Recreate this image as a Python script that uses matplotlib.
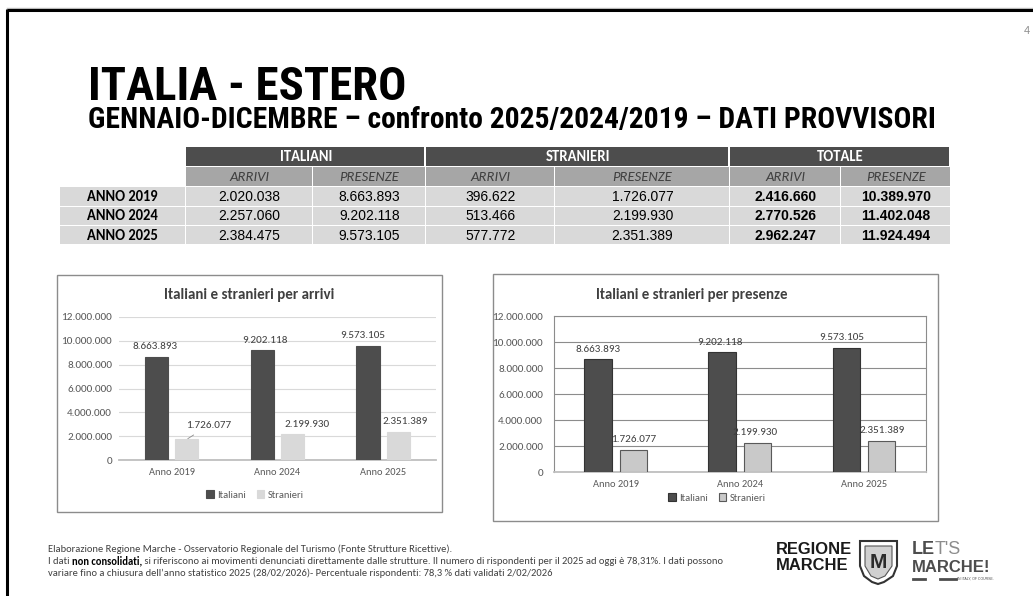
import matplotlib
matplotlib.use("Agg")
import matplotlib.pyplot as plt
from matplotlib import font_manager
from matplotlib.patches import Rectangle, Polygon

W, H = 1033, 596

# --- data ---
row_labels = ["ANNO 2019", "ANNO 2024", "ANNO 2025"]
groups = ["ITALIANI", "STRANIERI", "TOTALE"]
sub_labels = ["ARRIVI", "PRESENZE"]
ita_arrivi = [2020038, 2257060, 2384475]
ita_presenze = [8663893, 9202118, 9573105]
str_arrivi = [396622, 513466, 577772]
str_presenze = [1726077, 2199930, 2351389]
tot_arrivi = [2416660, 2770526, 2962247]
tot_presenze = [10389970, 11402048, 11924494]

chart_categories = ["Anno 2019", "Anno 2024", "Anno 2025"]
chart_italiani = [8663893, 9202118, 9573105]
chart_stranieri = [1726077, 2199930, 2351389]
y_ticks = [0, 2000000, 4000000, 6000000, 8000000, 10000000, 12000000]

footer_1 = "Elaborazione Regione Marche - Osservatorio Regionale del Turismo (Fonte Strutture Ricettive)."
footer_2 = ["I dati ", "non consolidati,", " si riferiscono ai movimenti denunciati direttamente dalle strutture. "
            "Il numero di rispondenti per il 2025 ad oggi è 78,31%. I dati possono"]
footer_3 = "variare fino a chiusura dell\u2019anno statistico 2025 (28/02/2026)- Percentuale rispondenti: 78,3 % dati validati 2/02/2026"

DARK = "#4d4d4d"
MID = "#a6a6a6"
LIGHT = "#d9d9d9"
TXT = "#595959"

installed = {f.name for f in font_manager.fontManager.ttflist}


def pick(*names):
    for n in names:
        if n in installed:
            return n
    return names[-1]


NARROW = pick("Liberation Sans Narrow", "Arial Narrow", "Roboto Condensed", "Open Sans Condensed", "Liberation Sans")
CAL = pick("Carlito", "Calibri", "Lato")
ARIAL = "Liberation Sans"


def fmt(v):
    return f"{v:,}".replace(",", ".")


fig = plt.figure(figsize=(W / 100, H / 100), dpi=100)
renderer = fig.canvas.get_renderer()

bg = fig.add_axes([0, 0, 1, 1], zorder=0)
bg.set_xlim(0, W)
bg.set_ylim(H, 0)
bg.axis("off")


def text_width(s, size, **kw):
    t = bg.text(0, 0, s, fontsize=size, **kw)
    w = t.get_window_extent(renderer=renderer).width
    t.remove()
    return w


def fit(s, width, **kw):
    return 10 * width / text_width(s, 10, **kw)


def add_ax(x0, y0, x1, y1):
    return fig.add_axes([x0 / W, 1 - y1 / H, (x1 - x0) / W, (y1 - y0) / H], zorder=2)


# slide frame
bg.plot([7, W], [8, 8], color="#bfbfbf", lw=1)
bg.plot([7, W], [10, 10], color="black", lw=2.2, solid_capstyle="butt")
bg.plot([7, 7], [9, H], color="black", lw=2.2, solid_capstyle="butt")
bg.text(1024, 31, "4", fontsize=8, color="#8c8c8c", ha="left", va="center", family=ARIAL)

# titles
bg.text(88, 100, "ITALIA - ESTERO", fontsize=fit("ITALIA - ESTERO", 318, family=NARROW, weight="bold"),
        family=NARROW, weight="bold", color="black", va="baseline")
sub = "GENNAIO-DICEMBRE \u2013 confronto 2025/2024/2019 \u2013 DATI PROVVISORI"
bg.text(88, 128, sub, fontsize=fit(sub, 846, family=NARROW, weight="bold"),
        family=NARROW, weight="bold", color="black", va="baseline")

# --- table ---
col_x = [186, 313, 426, 555, 730, 841, 951]
row_y = [147, 167, 187, 207, 226, 245]
label_x = (60, 185)
columns = [ita_arrivi, ita_presenze, str_arrivi, str_presenze, tot_arrivi, tot_presenze]

for g, name in enumerate(groups):
    x0, x1 = col_x[2 * g], col_x[2 * g + 2]
    bg.add_patch(Rectangle((x0, row_y[0]), x1 - x0 - 2, row_y[1] - row_y[0] - 1, color=DARK, lw=0))
    bg.text((x0 + x1) / 2, (row_y[0] + row_y[1]) / 2, name, color="white", weight="bold",
            family=CAL, fontsize=10.5, ha="center", va="center")

for c in range(6):
    x0, x1 = col_x[c], col_x[c + 1]
    bg.add_patch(Rectangle((x0, row_y[1]), x1 - x0 - 1.5, row_y[2] - row_y[1] - 1, color=MID, lw=0))
    bg.text((x0 + x1) / 2, (row_y[1] + row_y[2]) / 2, sub_labels[c % 2], color="#404040",
            style="italic", family=CAL, fontsize=10.5, ha="center", va="center")
    for r in range(3):
        y0, y1 = row_y[r + 2], row_y[r + 3]
        bg.add_patch(Rectangle((x0, y0), x1 - x0 - 1.5, y1 - y0 - 1.5, color=LIGHT, lw=0))
        bg.text((x0 + x1) / 2, (y0 + y1) / 2, fmt(columns[c][r]), color="black",
                weight="bold" if c >= 4 else "normal", family=ARIAL, fontsize=10,
                ha="center", va="center")

for r, lab in enumerate(row_labels):
    y0, y1 = row_y[r + 2], row_y[r + 3]
    bg.add_patch(Rectangle((label_x[0], y0), label_x[1] - label_x[0], y1 - y0 - 1.5, color=LIGHT, lw=0))
    bg.text(sum(label_x) / 2, (y0 + y1) / 2, lab, color="black", weight="bold",
            family=CAL, fontsize=10.5, ha="center", va="center")


# --- charts ---
def bar_chart(box, area, title, title_w, boxed, ita_dx, str_off, legend_xy):
    bx0, by0, bx1, by1 = box
    bg.add_patch(Rectangle((bx0, by0), bx1 - bx0, by1 - by0, fill=False, ec="#8c8c8c", lw=1))
    ax = add_ax(*area)
    tsize = fit(title, title_w, family=CAL, weight="bold")
    bg.text((bx0 + bx1) / 2 if not boxed else 692, 295, title, fontsize=tsize, family=CAL,
            weight="bold", color="#404040", ha="center", va="center")
    x = range(len(chart_categories))
    w, off = 0.22, 0.142
    light = "#c9c9c9" if boxed else LIGHT
    ec1 = "#333333" if boxed else DARK
    ec2 = "#595959" if boxed else light
    b1 = ax.bar([i - off for i in x], chart_italiani, w, color=DARK, ec=ec1, lw=0.8, label="Italiani", zorder=3)
    b2 = ax.bar([i + off for i in x], chart_stranieri, w, color=light, ec=ec2, lw=0.8, label="Stranieri", zorder=3)
    for i, v in enumerate(chart_italiani):
        ax.annotate(fmt(v), (i - off, v), xytext=(ita_dx[i] * 0.72, 7.2), textcoords="offset points",
                    ha="center", va="center", fontsize=8, family=CAL, color="#404040")
    for i, v in enumerate(chart_stranieri):
        dx, dy, lead = str_off[i]
        ax.annotate(fmt(v), (i + off, v), xytext=(dx * 0.72, dy * 0.72), textcoords="offset points",
                    ha="center", va="center", fontsize=8, family=CAL, color="#404040",
                    arrowprops=dict(arrowstyle="-", color="#8c8c8c", lw=0.6, shrinkA=3, shrinkB=1) if lead else None)
    ax.set_xlim(-0.5, len(chart_categories) - 0.5)
    ax.set_ylim(0, 12000000)
    ax.set_yticks(y_ticks)
    ax.set_yticklabels([fmt(t) for t in y_ticks])
    ax.set_xticks(list(x))
    ax.set_xticklabels(chart_categories)
    ypad = 7.5 if boxed else 4.8
    ax.tick_params(axis="y", length=0, pad=ypad, labelsize=8, labelcolor=TXT)
    ax.tick_params(axis="x", length=0, pad=6, labelsize=7.5, labelcolor=TXT)
    for lab in ax.get_xticklabels() + ax.get_yticklabels():
        lab.set_family(CAL)
    ax.set_axisbelow(True)
    grid_c = "#8c8c8c" if boxed else LIGHT
    ax.yaxis.grid(True, color=grid_c, lw=0.8)
    for side in ["top", "right", "left"]:
        ax.spines[side].set_visible(boxed)
        ax.spines[side].set_color(grid_c)
        ax.spines[side].set_linewidth(0.8)
    ax.spines["bottom"].set_color("#bfbfbf")
    ax.spines["bottom"].set_linewidth(1.3)
    ax.patch.set_alpha(0)
    ax.legend(handles=[b1, b2], loc="center", bbox_to_anchor=(legend_xy[0] / W, 1 - legend_xy[1] / H),
              bbox_transform=fig.transFigure, ncol=2, frameon=False,
              prop=dict(family=CAL, size=7.5), handlelength=0.75, handleheight=0.75,
              handletextpad=0.3, columnspacing=1.0, labelcolor=TXT)
    return ax


bar_chart((57, 275, 442, 512), (118.7, 317, 436, 460), "Italiani e stranieri per arrivi", 170, False,
          [-1.5, 3, -5], [(22, 14, True), (15, 9, False), (7, 10, False)], (255, 495))
bar_chart((493, 274, 938, 521), (553.5, 316, 926, 472), "Italiani e stranieri per presenze", 192, True,
          [0.5, -2, -4.5], [(0, 10.5, False), (-2.5, 10.5, False), (1, 10.5, False)], (717, 498))

# --- footer ---
fsize = fit(footer_3, 505, family=CAL)
bg.text(48, 549, footer_1, fontsize=fsize, family=CAL, color="#404040", va="center")
xx = 48
for k, piece in enumerate(footer_2):
    kw = dict(family=CAL, weight="bold" if k == 1 else "normal")
    bg.text(xx, 561, piece, fontsize=fsize, color="black" if k == 1 else "#404040", va="center", **kw)
    xx += text_width(piece, fsize, **kw)
bg.text(48, 573, footer_3, fontsize=fsize, family=CAL, color="#404040", va="center")

# --- logos (approximation) ---
for word, yy in [("REGIONE", 549), ("MARCHE", 566)]:
    bg.text(776, yy, word, fontsize=fit("REGIONE", 76, family=ARIAL, weight="heavy"), family=ARIAL,
            weight="heavy", color="#1a1a1a", va="center")
shield = [(860, 541), (897, 541), (897, 566), (893, 576), (884, 582), (878, 584),
          (872, 582), (864, 576), (860, 566)]
bg.add_patch(Polygon(shield, closed=True, fc="white", ec="#333333", lw=1.5))
bg.add_patch(Polygon([(865, 546), (892, 546), (892, 566), (885, 576), (878, 579), (871, 576), (865, 566)],
                     closed=True, fc="#d0d0d0", ec="#555555", lw=0.8))
bg.text(878, 562, "M", fontsize=15, family=ARIAL, weight="bold", color="#2b2b2b", ha="center", va="center")
bg.text(912, 549, "LE", fontsize=13, family=ARIAL, weight="bold", color="#4d4d4d", va="center")
bg.text(935, 549, "T'S", fontsize=13, family=ARIAL, color="#8c8c8c", va="center")
bg.text(912, 567, "MARCHE!", fontsize=fit("MARCHE!", 78, family=ARIAL, weight="bold"), family=ARIAL,
        weight="bold", color="#4d4d4d", va="center")
bg.plot([913, 925], [579, 579], color="#4d4d4d", lw=2)
bg.plot([940, 956], [579, 579], color="#4d4d4d", lw=2)
bg.text(957, 579, "IN ITALY, OF COURSE.", fontsize=2.5, family=ARIAL, color="#4d4d4d", va="center")

fig.savefig("out.png", dpi=100)
